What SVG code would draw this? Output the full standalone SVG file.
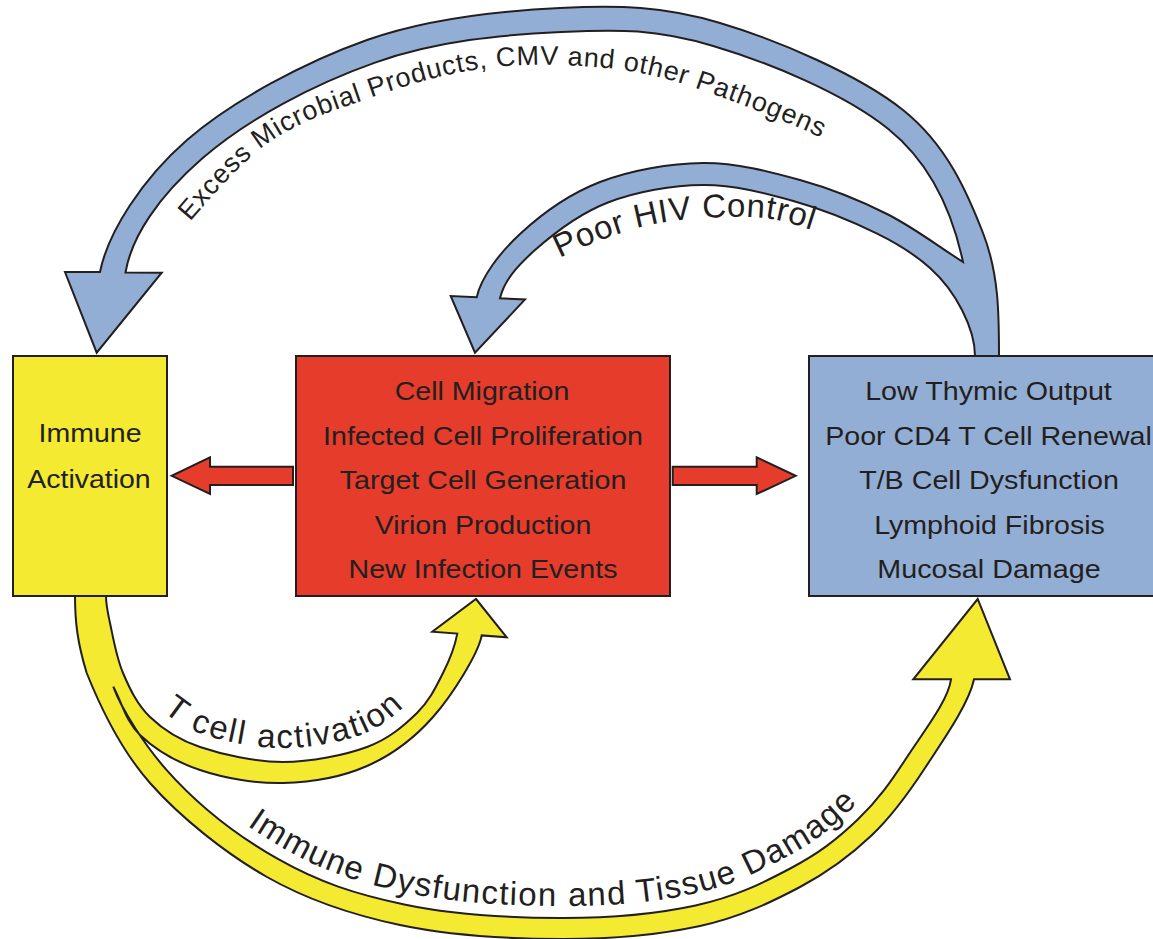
<svg xmlns="http://www.w3.org/2000/svg" xmlns:xlink="http://www.w3.org/1999/xlink" width="1153" height="939" viewBox="0 0 1153 939">
<style>
.box{stroke:#231f20;stroke-width:2}
.arr{stroke:#231f20;stroke-width:2;stroke-linejoin:miter;stroke-miterlimit:10}
.blue{fill:#93aed4}
.yel{fill:#f4ea31}
.red{fill:#e53c2b}
.t{font-family:"Liberation Sans",Arial,Helvetica,sans-serif;fill:#231f20}
.bt{font-size:26px;text-anchor:middle}
</style>
<defs>
<path id="pTop" d="M160,255 C194.3,219 228,173.3 263,147 C298,120.7 335,110.3 370,98 C405,85.7 438,75.7 473,70 C508,64.3 545.5,63.8 580,66 C614.5,68.2 640.5,71 680,83 C719.5,95 785.3,121 817,136 C848.7,151 852.3,158.3 870,170"/>
<path id="pHiv" d="M520,290 C533.3,279.3 538.3,268.8 560,258 C581.7,247.2 618.3,231.8 650,225 C681.7,218.2 723,216.2 750,217 C777,217.8 795.3,224.8 812,230 C828.7,235.2 837.3,242 850,248"/>
<path id="pTcell" d="M136.7,670.3 C145.2,683.6 150.3,699.3 162.3,710.3 C174.4,721.3 188.8,730 209,736.3 C229.3,742.6 258.8,748.1 283.8,748 C308.8,747.9 338.6,742.6 358.8,735.6 C379,728.6 393.1,716.9 404.8,706 C416.6,695.1 421.1,682.1 429.3,670.1"/>
<path id="pDys" d="M174.8,761.2 C204.8,795.2 241.6,824.6 283.3,848.3 C325,872 358,882.5 406.8,892.8 C455.6,903.1 510.2,905.8 560.1,906 C610.2,906.2 652.9,902.5 692.9,893.8 C732.9,885.1 755.9,873.1 784.6,857.9 C813.3,842.7 828.4,830.9 849.2,811.1 C870,791.3 880.4,775.9 897.4,749.9"/>
</defs>
<rect width="1153" height="939" fill="#ffffff"/>
<g id="connectors">
  <path id="blueArrows" class="arr blue" d="M999,356 C999,315 999,274 983,233 C967,192 946.8,145 903,110 C859.2,75 777.2,40 720,23 C662.8,6 618.8,5.2 560,8 C501.2,10.8 429.2,18 367,40 C304.8,62 231.5,101.3 187,140 C142.5,178.7 108,232 100,272 L65,272 L96.7,352.7 L161.7,272.7 L125.5,272.5 C131.5,236.7 158.2,196.8 202.7,158.1 C247.2,119.4 312.8,84.6 375,62.6 C437.2,40.6 502.4,34.8 561.2,32 C620,29.2 656,29 713.2,46 C770.4,63 844.2,93.7 888,128.7 C932,164 953,215 963,262 C937.7,246 914.2,227.7 887,214 C859.8,200.3 830.7,188.5 800,180 C769.3,171.5 736.3,162.7 703,163 C669.7,163.3 630.5,170.2 600,182 C569.5,193.8 540.6,214.9 520,234 C499.4,253.1 481.2,277.2 476.7,297.2 L450.7,296 L475,352.7 L525,299.5 L500,298.3 C504.1,280.8 517,266.1 535,250.1 C553,234.1 579.9,213.35 607.9,202.5 C635.9,191.65 672.2,185.2 703.2,185 C734.2,184.8 765.1,193.1 794.1,201.2 C823.1,209.3 854.45,222.5 877.1,233.6 C899.75,244.7 915.85,255.3 930,268 C944.15,280.7 954.5,295.3 962,310 C969.5,324.7 975,340 975,356 Z"/>
  <path id="yellowArrows" class="arr yel" d="M75,596 C75,622 77.5,643 86.7,673 C99.2,704.2 120,749 150,783 C180,817 225.3,853.3 267,877 C308.7,900.7 351.2,914.7 400,925 C448.8,935.3 510,938.8 560,939 C610,939.2 660,934.7 700,926 C740,917.3 771.3,902.2 800,887 C828.7,871.8 851.2,854.8 872,835 C892.8,815.2 908,794 925,768 C942,742 969,704 974,679.3 L1010,679.3 L977.7,599 L913.3,679.3 L951,679.3 C948.4,699.9 924.4,730.5 907.4,756.5 C890.4,782.5 878.3,800 857.5,819.8 C836.7,839.6 818.9,853.3 790.2,868.5 C761.5,883.7 735.5,896.8 695.5,905.5 C655.5,914.2 610.1,918.2 560.1,918 C510.1,917.8 453.1,914.8 404.3,904.5 C355.5,894.2 319.1,882.4 277.4,858.7 C235.7,835 195.8,803.1 165.8,769.1 C146,746.6 121.7,710.2 113.3,686.7 C122.2,702.8 125.55,721.1 140,735 C154.45,748.9 176.2,762 200,770 C223.8,778 255.2,783.7 283,783 C310.8,782.3 342,777 367,766 C392,755 413.9,738.7 433,717 C452.1,695.3 478.4,653.7 481.7,635.4 L506.7,637.3 L476,599 L432.3,631.7 L457.3,633.6 C454.5,648.3 449.7,659.8 443,673 C436.3,686.2 429.7,700.7 417,713 C404.3,725.3 389.3,738.8 367,747 C344.7,755.2 310.8,762 283,762 C255.2,762 222.2,754.5 200,747 C177.8,739.5 162.8,729.3 150,717 C137.2,704.7 129.7,688.7 123,673 C116.3,657.3 112.8,635.8 110,623 C107.2,610.2 106,605 106,596 Z"/>
  <polygon id="redLeft" class="arr red" points="293,466.7 210,466.7 210,457.3 171.7,475.8 210,494 210,485 293,485"/>
  <polygon id="redRight" class="arr red" points="672.7,466.7 756.7,466.7 756.7,457.3 795.7,475.8 756.7,494 756.7,485 672.7,485"/>
  <text class="t" font-size="27" letter-spacing="0.8"><textPath xlink:href="#pTop" href="#pTop" startOffset="390" text-anchor="middle">Excess Microbial Products, CMV and other Pathogens</textPath></text>
  <text class="t" font-size="33" letter-spacing="0.7"><textPath xlink:href="#pHiv" href="#pHiv" startOffset="51">Poor HIV Control</textPath></text>
  <text class="t" font-size="33" letter-spacing="2"><textPath xlink:href="#pTcell" href="#pTcell" startOffset="179" text-anchor="middle">T cell activation</textPath></text>
  <text class="t" font-size="33" letter-spacing="1.4"><textPath xlink:href="#pDys" href="#pDys" startOffset="424" text-anchor="middle">Immune Dysfunction and Tissue Damage</textPath></text>
</g>
<g id="immune-activation">
  <rect class="box yel" x="13" y="356" width="154" height="240"/>
  <text class="t bt" x="90" y="441.7" textLength="103" lengthAdjust="spacingAndGlyphs">Immune</text>
  <text class="t bt" x="89" y="488.3" textLength="123.4" lengthAdjust="spacingAndGlyphs">Activation</text>
</g>
<g id="hiv-replication">
  <rect class="box red" x="296" y="356" width="374" height="240"/>
  <text class="t bt" x="482" y="400" textLength="174.7" lengthAdjust="spacingAndGlyphs">Cell Migration</text>
  <text class="t bt" x="483" y="444.6" textLength="320" lengthAdjust="spacingAndGlyphs">Infected Cell Proliferation</text>
  <text class="t bt" x="483" y="489.2" textLength="286.7" lengthAdjust="spacingAndGlyphs">Target Cell Generation</text>
  <text class="t bt" x="483" y="533.8" textLength="216.7" lengthAdjust="spacingAndGlyphs">Virion Production</text>
  <text class="t bt" x="483" y="578.4" textLength="269" lengthAdjust="spacingAndGlyphs">New Infection Events</text>
</g>
<g id="immune-damage">
  <rect class="box blue" x="809" y="356" width="360" height="240"/>
  <text class="t bt" x="988.5" y="400" textLength="246.7" lengthAdjust="spacingAndGlyphs">Low Thymic Output</text>
  <text class="t bt" x="988.5" y="444.6" textLength="326.7" lengthAdjust="spacingAndGlyphs">Poor CD4 T Cell Renewal</text>
  <text class="t bt" x="989" y="489.2" textLength="259.7" lengthAdjust="spacingAndGlyphs">T/B Cell Dysfunction</text>
  <text class="t bt" x="989.5" y="533.8" textLength="230.7" lengthAdjust="spacingAndGlyphs">Lymphoid Fibrosis</text>
  <text class="t bt" x="989" y="578.4" textLength="223.3" lengthAdjust="spacingAndGlyphs">Mucosal Damage</text>
</g>
</svg>
